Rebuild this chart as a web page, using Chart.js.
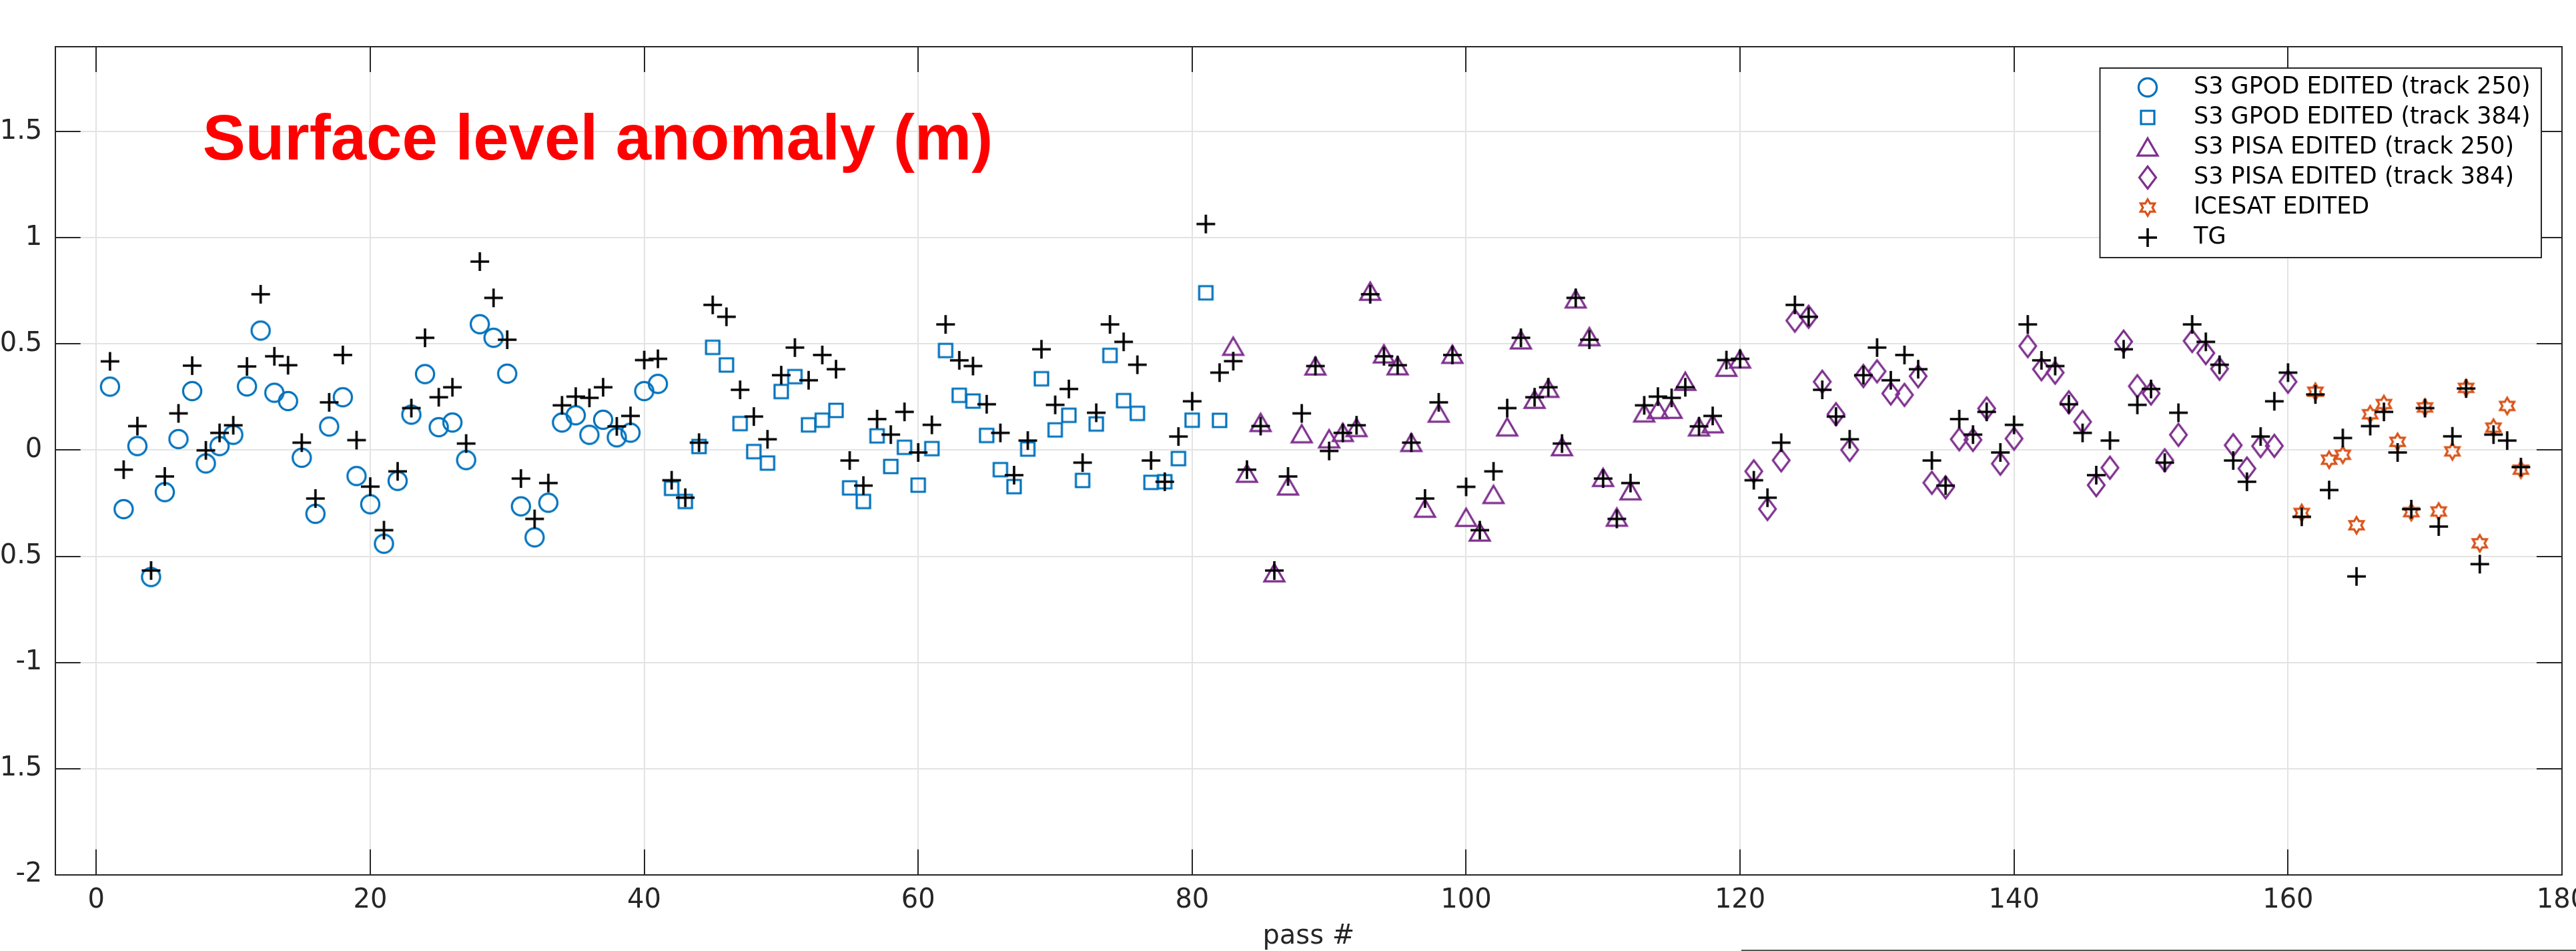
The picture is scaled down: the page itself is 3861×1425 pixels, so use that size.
<!DOCTYPE html>
<html>
<head>
<meta charset="utf-8">
<title>Surface level anomaly (m)</title>
<script src="https://cdn.jsdelivr.net/npm/chart.js@4.4.1/dist/chart.umd.min.js"></script>
<style>
html, body { margin:0; padding:0; background:#ffffff; overflow:hidden; }
#chart { display:block; }
</style>
</head>
<body>
<canvas id="chart" width="3861" height="1425"></canvas>
<script>
// ---------------- data ----------------
const SERIES_LABELS = [
  'S3 GPOD EDITED (track 250)',
  'S3 GPOD EDITED (track 384)',
  'S3 PISA EDITED (track 250)',
  'S3 PISA EDITED (track 384)',
  'ICESAT EDITED',
  'TG'
];
const TITLE_TEXT = 'Surface level anomaly (m)';
const X_TITLE = 'pass #';

const X_TICKS = [0, 20, 40, 60, 80, 100, 120, 140, 160, 180];
const X_TICK_LABELS = ['0', '20', '40', '60', '80', '100', '120', '140', '160', '180'];
const Y_TICKS = [-2, -1.5, -1, -0.5, 0, 0.5, 1, 1.5];
const Y_TICK_LABELS = ['-2', '-1.5', '-1', '-0.5', '0', '0.5', '1', '1.5'];

const PASS_GPOD_250 = [1,2,3,4,5,6,7,8,9,10,11,12,13,14,15,16,17,18,19,20,21,22,23,24,25,26,27,28,29,30,31,32,33,34,35,36,37,38,39,40,41];
const SLA_GPOD_250 = [0.299,-0.278,0.019,-0.598,-0.198,0.052,0.278,-0.063,0.019,0.072,
  0.300,0.563,0.270,0.231,-0.036,-0.300,0.111,0.249,-0.122,-0.255,
  -0.441,-0.145,0.167,0.358,0.108,0.130,-0.047,0.593,0.529,0.360,
  -0.265,-0.411,-0.248,0.130,0.164,0.072,0.143,0.060,0.082,0.278,0.312];

const PASS_GPOD_384 = [42,43,44,45,46,47,48,49,50,51,52,53,54,55,56,57,58,59,60,61,62,63,64,65,66,67,68,69,70,71,72,73,74,75,76,77,78,79,80,81,82];
const SLA_GPOD_384 = [-0.180,-0.242,0.017,0.484,0.401,0.125,-0.007,-0.061,0.276,0.346,
  0.119,0.141,0.187,-0.178,-0.242,0.067,-0.077,0.013,-0.165,0.007,
  0.469,0.258,0.231,0.069,-0.092,-0.172,0.005,0.336,0.095,0.164,
  -0.143,0.123,0.446,0.233,0.173,-0.152,-0.149,-0.040,0.141,0.741,0.140];

const PASS_PISA_250 = [83,84,85,86,87,88,89,90,91,92,93,94,95,96,97,98,99,100,101,102,103,104,105,106,107,108,109,110,111,112,113,114,115,116,117,118,119,120];
const SLA_PISA_250 = [0.487,-0.111,0.128,-0.580,-0.171,0.075,0.394,0.051,0.081,0.104,
  0.746,0.451,0.395,0.034,-0.276,0.172,0.449,-0.319,-0.388,-0.211,
  0.107,0.517,0.237,0.289,0.014,0.710,0.532,-0.131,-0.318,-0.194,
  0.173,0.189,0.190,0.322,0.107,0.122,0.388,0.427];

const PASS_PISA_384 = [121,122,123,124,125,126,127,128,129,130,131,132,133,134,135,136,137,138,139,140,141,142,143,144,145,146,147,148,149,150,151,152,153,154,155,156,157,158,159,160];
const SLA_PISA_384 = [-0.100,-0.277,-0.048,0.610,0.628,0.322,0.169,0.001,0.349,0.371,
  0.267,0.260,0.348,-0.154,-0.175,0.051,0.048,0.196,-0.064,0.054,
  0.490,0.381,0.365,0.225,0.133,-0.165,-0.083,0.511,0.301,0.267,
  -0.048,0.072,0.514,0.457,0.383,0.023,-0.087,0.019,0.020,0.322];

const PASS_ICESAT = [161,162,163,164,165,166,167,168,169,170,171,172,173,174,175,176,177];
const SLA_ICESAT = [-0.296,0.275,-0.045,-0.022,-0.354,0.169,0.217,0.039,-0.292,0.201,
  -0.289,-0.006,0.293,-0.439,0.106,0.208,-0.092];

const PASS_TG = [1,2,3,4,5,6,7,8,9,10,11,12,13,14,15,16,17,18,19,20,
  21,22,23,24,25,26,27,28,29,30,31,32,33,34,35,36,37,38,39,40,
  41,42,43,44,45,46,47,48,49,50,51,52,53,54,55,56,57,58,59,60,
  61,62,63,64,65,66,67,68,69,70,71,72,73,74,75,76,77,78,79,80,
  81,82,83,84,85,86,87,88,89,90,91,92,93,94,95,96,97,98,99,100,
  101,102,103,104,105,106,107,108,109,110,111,112,113,114,115,116,117,118,119,120,
  121,122,123,124,125,126,127,128,129,130,131,132,133,134,135,136,137,138,139,140,
  141,142,143,144,145,146,147,148,149,150,151,152,153,154,155,156,157,158,159,160,
  161,162,163,164,165,166,167,168,169,170,171,172,173,174,175,176,177];
const SLA_TG = [0.418,-0.092,0.113,-0.567,-0.124,0.173,0.398,-0.001,0.081,0.117,
  0.394,0.734,0.442,0.400,0.035,-0.228,0.225,0.448,0.047,-0.172,
  -0.377,-0.100,0.198,0.529,0.249,0.296,0.031,0.888,0.717,0.520,
  -0.134,-0.324,-0.155,0.211,0.252,0.246,0.296,0.112,0.161,0.424,
  0.430,-0.142,-0.224,0.035,0.684,0.628,0.284,0.158,0.051,0.353,
  0.483,0.329,0.448,0.381,-0.049,-0.167,0.146,0.073,0.180,-0.011,
  0.119,0.592,0.423,0.396,0.216,0.081,-0.118,0.045,0.475,0.213,
  0.288,-0.059,0.176,0.592,0.510,0.402,-0.049,-0.149,0.064,0.230,
  1.065,0.365,0.419,-0.092,0.113,-0.567,-0.124,0.173,0.396,-0.004,
  0.081,0.117,0.734,0.442,0.400,0.035,-0.228,0.225,0.448,-0.173,
  -0.377,-0.100,0.198,0.529,0.249,0.296,0.031,0.717,0.520,-0.134,
  -0.324,-0.155,0.211,0.252,0.246,0.296,0.112,0.161,0.424,0.430,
  -0.142,-0.224,0.035,0.684,0.628,0.284,0.158,0.051,0.353,0.483,
  0.329,0.448,0.381,-0.049,-0.167,0.146,0.073,0.180,-0.011,0.119,
  0.592,0.423,0.396,0.216,0.081,-0.118,0.045,0.475,0.213,0.288,
  -0.059,0.176,0.592,0.510,0.402,-0.049,-0.149,0.064,0.230,0.365,
  -0.314,0.262,-0.188,0.057,-0.595,0.113,0.180,-0.011,-0.278,0.198,
  -0.360,0.065,0.290,-0.537,0.073,0.045,-0.080];

// ---------------- styles ----------------
const C_BLUE = '#0072BD', C_PURPLE = '#7E2F8E', C_ORANGE = '#D95319', C_BLACK = '#000000';
const AXIS_COLOR = '#262626';
const GRID_COLOR = '#e3e3e3';
const TICK_LEN = 38;

function marker(kind, color) {
  const S = 48, m = S / 2;
  const c = document.createElement('canvas');
  c.width = S; c.height = S;
  const g = c.getContext('2d');
  g.strokeStyle = color; g.lineWidth = 3.2; g.lineJoin = 'miter'; g.miterLimit = 10;
  g.beginPath();
  if (kind === 'circle') {
    g.arc(m, m, 13.6, 0, Math.PI * 2);
  } else if (kind === 'square') {
    g.rect(m - 10, m - 10, 20, 20);
  } else if (kind === 'triangle') {
    g.moveTo(m, m - 13.8); g.lineTo(m + 15, m + 12.2); g.lineTo(m - 15, m + 12.2); g.closePath();
  } else if (kind === 'diamond') {
    g.moveTo(m, m - 16.5); g.lineTo(m + 12.5, m); g.lineTo(m, m + 16.5); g.lineTo(m - 12.5, m); g.closePath();
  } else if (kind === 'hexagram') {
    const R = 12.3, r = R / Math.sqrt(3);
    for (let k = 0; k < 12; k++) {
      const a = -Math.PI / 2 + k * Math.PI / 6;
      const rr = (k % 2) ? r : R;
      const px = m + rr * Math.cos(a), py = m + rr * Math.sin(a);
      if (k) g.lineTo(px, py); else g.moveTo(px, py);
    }
    g.closePath();
  } else if (kind === 'plus') {
    g.lineWidth = 3.6;
    g.moveTo(m - 14, m); g.lineTo(m + 14, m);
    g.moveTo(m, m - 14); g.lineTo(m, m + 14);
  }
  g.stroke();
  return c;
}

function pts(xs, ys) { return xs.map((p, i) => ({ x: p, y: ys[i] })); }

function ds(label, xs, ys, kind, color, order) {
  return {
    label, data: pts(xs, ys), order,
    pointStyle: marker(kind, color), pointRadius: 12, pointHoverRadius: 12,
    borderColor: color, backgroundColor: color, showLine: false
  };
}

const datasets = [
  ds(SERIES_LABELS[0], PASS_GPOD_250, SLA_GPOD_250, 'circle', C_BLUE, 5),
  ds(SERIES_LABELS[1], PASS_GPOD_384, SLA_GPOD_384, 'square', C_BLUE, 4),
  ds(SERIES_LABELS[2], PASS_PISA_250, SLA_PISA_250, 'triangle', C_PURPLE, 3),
  ds(SERIES_LABELS[3], PASS_PISA_384, SLA_PISA_384, 'diamond', C_PURPLE, 2),
  ds(SERIES_LABELS[4], PASS_ICESAT, SLA_ICESAT, 'hexagram', C_ORANGE, 1),
  ds(SERIES_LABELS[5], PASS_TG, SLA_TG, 'plus', C_BLACK, 0)
];

// ---------------- plugins ----------------
const framePlugin = {
  id: 'matlabFrame',
  beforeDatasetsDraw(chart) {
    const { ctx, chartArea: a, scales: { x, y } } = chart;
    ctx.save();
    ctx.strokeStyle = AXIS_COLOR;
    ctx.lineWidth = 2;
    ctx.beginPath();
    ctx.moveTo(a.left, a.top); ctx.lineTo(a.right, a.top); ctx.lineTo(a.right, a.bottom);
    x.ticks.forEach(t => {
      const px = Math.round(x.getPixelForValue(t.value));
      ctx.moveTo(px, a.bottom); ctx.lineTo(px, a.bottom - TICK_LEN);
      ctx.moveTo(px, a.top); ctx.lineTo(px, a.top + TICK_LEN);
    });
    y.ticks.forEach(t => {
      const py = Math.round(y.getPixelForValue(t.value));
      ctx.moveTo(a.left, py); ctx.lineTo(a.left + TICK_LEN, py);
      ctx.moveTo(a.right, py); ctx.lineTo(a.right - TICK_LEN, py);
    });
    ctx.stroke();
    ctx.restore();
  }
};

const titleTextPlugin = {
  id: 'insideTitle',
  afterDatasetsDraw(chart) {
    const { ctx, chartArea: a } = chart;
    ctx.save();
    ctx.font = "bold 96px 'Liberation Sans', Arial, sans-serif";
    ctx.fillStyle = '#ff0000';
    ctx.textAlign = 'left';
    ctx.textBaseline = 'alphabetic';
    ctx.fillText(TITLE_TEXT, a.left + 221, a.top + 169);
    ctx.restore();
  },
  afterDraw(chart) {
    const { ctx } = chart;
    ctx.save();
    ctx.strokeStyle = '#555555';
    ctx.lineWidth = 2;
    ctx.beginPath();
    ctx.moveTo(2610, chart.height - 1); ctx.lineTo(chart.width, chart.height - 1);
    ctx.stroke();
    ctx.restore();
  }
};

const legendBoxPlugin = {
  id: 'legendBox',
  beforeLayout(chart) {
    const lg = chart.legend;
    if (lg && !lg.__layered) {
      lg._layers = () => [{
        z: 1,
        draw(area) {
          const r = lg.__frame;
          if (r) {
            const ctx = chart.ctx;
            ctx.save();
            ctx.fillStyle = '#ffffff';
            ctx.fillRect(r.x, r.y, r.w, r.h);
            ctx.strokeStyle = AXIS_COLOR;
            ctx.lineWidth = 2;
            ctx.strokeRect(r.x, r.y, r.w, r.h);
            ctx.restore();
          }
          lg.draw(area);
        }
      }];
      lg.__layered = true;
    }
  },
  afterLayout(chart) {
    const lg = chart.legend, a = chart.chartArea;
    if (!lg) return;
    const w = lg.width;
    lg.left = a.right - 682.5; lg.right = lg.left + Math.max(w, 660);
    lg.width = lg.right - lg.left;
    lg.top = a.top + 33.5; lg.bottom = lg.top + 290; lg.height = 290;
    lg.__frame = { x: a.right - 692.5, y: a.top + 32, w: 661.5, h: 284 };
  }
};

// ---------------- chart ----------------
Chart.defaults.font.family = "'DejaVu Sans', sans-serif";
Chart.defaults.color = AXIS_COLOR;

new Chart(document.getElementById('chart'), {
  type: 'scatter',
  data: { datasets },
  options: {
    responsive: false,
    animation: false,
    devicePixelRatio: 1,
    events: [],
    layout: { padding: { top: 70, right: 21, left: 0, bottom: 0 } },
    plugins: {
      tooltip: { enabled: false },
      title: { display: false },
      legend: {
        display: true,
        position: 'chartArea',
        align: 'start',
        labels: {
          usePointStyle: true,
          pointStyleWidth: 103,
          padding: 10,
          color: '#000000',
          font: { size: 35, family: "'DejaVu Sans', sans-serif" },
          sort: (a, b) => a.datasetIndex - b.datasetIndex
        }
      }
    },
    scales: {
      x: {
        type: 'linear',
        min: -3,
        max: 180,
        afterBuildTicks: s => { s.ticks = X_TICKS.map(v => ({ value: v })); },
        afterFit: s => { s.height = 114.3; s.paddingLeft = 0; s.paddingRight = 0; },
        grid: { color: GRID_COLOR, lineWidth: 2, drawTicks: false },
        border: { display: true, color: AXIS_COLOR, width: 2 },
        ticks: {
          autoSkip: false, maxRotation: 0, minRotation: 0, padding: 15,
          color: AXIS_COLOR, font: { size: 40 },
          callback: (v) => { const i = X_TICKS.indexOf(v); return i >= 0 ? X_TICK_LABELS[i] : ''; }
        },
        title: {
          display: true, text: X_TITLE, color: AXIS_COLOR,
          font: { size: 40, lineHeight: 1 }, padding: { top: 0, bottom: 1 }
        }
      },
      y: {
        type: 'linear',
        min: -2,
        max: 1.9,
        afterBuildTicks: s => { s.ticks = Y_TICKS.map(v => ({ value: v })); },
        afterFit: s => { s.width = 82.7; s.paddingTop = 0; s.paddingBottom = 0; },
        grid: { color: GRID_COLOR, lineWidth: 2, drawTicks: false },
        border: { display: true, color: AXIS_COLOR, width: 2 },
        ticks: {
          autoSkip: false, padding: 19.4, color: AXIS_COLOR, font: { size: 40 },
          callback: (v) => { const i = Y_TICKS.indexOf(v); return i >= 0 ? Y_TICK_LABELS[i] : ''; }
        }
      }
    }
  },
  plugins: [framePlugin, titleTextPlugin, legendBoxPlugin]
});
</script>
</body>
</html>
